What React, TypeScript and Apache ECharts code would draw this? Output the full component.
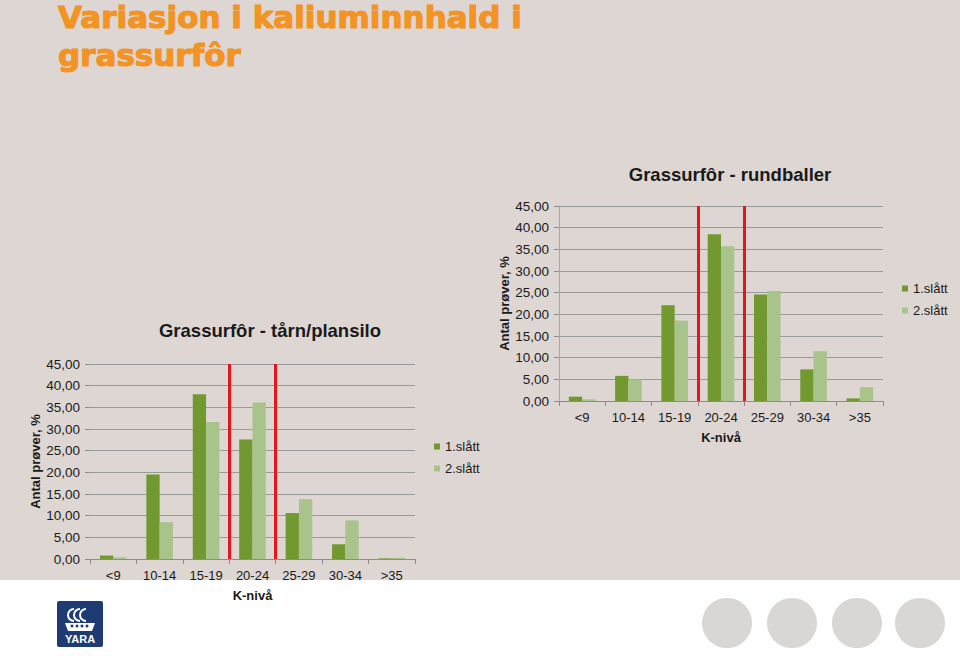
import React, { useEffect, useRef } from 'react';
import * as echarts from 'echarts';

const categories = ['<9', '10-14', '15-19', '20-24', '25-29', '30-34', '>35'];
const seriesNames = ['1.slått', '2.slått'];
const siloFirstCut = [0.8, 19.5, 38.0, 27.6, 10.6, 3.4, 0.15];
const siloSecondCut = [0.4, 8.5, 31.6, 36.1, 13.8, 8.9, 0.3];
const baleFirstCut = [1.0, 5.8, 22.1, 38.5, 24.6, 7.3, 0.6];
const baleSecondCut = [0.4, 5.0, 18.6, 35.7, 25.4, 11.5, 3.2];
const targetCategory = '20-24';
const yTicks = { min: 0, max: 45, interval: 5 };
const headingLines = ['Variasjon i kaliuminnhald i', 'grassurfôr'];

const FONT = '"Liberation Sans", Arial, sans-serif';
const DARK = '#71992F';
const LIGHT = '#A9C48B';
const TEXT = '#1A1A1A';
const GRID = '#9A9A9A';
const ORANGE = '#F39323';

export default function App() {
  const ref = useRef<HTMLDivElement>(null);
  useEffect(() => {
    const chart = echarts.init(ref.current!, null, { renderer: 'svg' });
    const ti = categories.indexOf(targetCategory);
    const bounds = [ti, ti + 1];

    const catAxis = (gridIndex: number) => ({
      type: 'category',
      gridIndex,
      data: categories,
      axisLine: { show: true, lineStyle: { color: '#8C8C8C', width: 1 } },
      axisTick: { show: true, length: 5, lineStyle: { color: '#8C8C8C' } },
      axisLabel: { margin: 10, fontSize: 13, color: TEXT, fontFamily: FONT },
      name: 'K-nivå',
      nameLocation: 'middle',
      nameGap: 30,
      nameTextStyle: { fontSize: 13, fontWeight: 'bold', color: TEXT, fontFamily: FONT },
    });
    const valAxis = (gridIndex: number, showLine: boolean) => ({
      type: 'value',
      gridIndex,
      min: yTicks.min,
      max: yTicks.max,
      interval: yTicks.interval,
      axisLine: { show: showLine, lineStyle: { color: '#A8A8A8' } },
      axisTick: { show: true, length: 5, lineStyle: { color: '#8C8C8C' } },
      splitLine: { show: true, lineStyle: { color: GRID, width: 1 } },
      axisLabel: {
        margin: 10,
        fontSize: 13.5,
        color: TEXT,
        fontFamily: FONT,
        formatter: (v: number) => v.toFixed(2).replace('.', ','),
      },
      name: 'Antal prøver, %',
      nameLocation: 'middle',
      nameGap: 45,
      nameTextStyle: { fontSize: 13, fontWeight: 'bold', color: TEXT, fontFamily: FONT },
    });
    const hiddenAxis = (gridIndex: number) => ({
      type: 'value',
      gridIndex,
      min: 0,
      max: categories.length,
      show: false,
    });
    const bar = (name: string, data: number[], axis: number, color: string) => ({
      type: 'bar',
      name,
      xAxisIndex: axis,
      yAxisIndex: axis,
      data,
      barWidth: 13.3,
      barGap: '0%',
      itemStyle: { color },
    });
    const redLines = (xAxisIndex: number, yAxisIndex: number) => ({
      type: 'line',
      xAxisIndex,
      yAxisIndex,
      data: [],
      markLine: {
        silent: true,
        symbol: ['none', 'none'],
        label: { show: false },
        lineStyle: { color: '#E8141B', width: 3, type: 'solid' },
        data: bounds.map((b) => ({ xAxis: b })),
      },
    });
    const legend = (left: number, top: number) => ({
      orient: 'vertical',
      left,
      top,
      padding: 0,
      itemGap: 9,
      itemWidth: 6,
      itemHeight: 6,
      icon: 'rect',
      data: seriesNames,
      textStyle: { fontSize: 13, color: TEXT, fontFamily: FONT },
    });
    const heading = (text: string, top: number) => ({
      text,
      left: 58,
      top,
      padding: 0,
      textStyle: {
        fontFamily: '"DejaVu Sans", sans-serif',
        fontWeight: 'bold',
        fontSize: 31,
        lineHeight: 31,
        color: ORANGE,
        textBorderColor: ORANGE,
        textBorderWidth: 1.1,
      },
    });

    const option = {
      animation: false,
      backgroundColor: '#FFFFFF',
      title: [
        heading(headingLines[0], 1),
        heading(headingLines[1], 39),
        {
          text: 'Grassurfôr - tårn/plansilo',
          left: 270,
          top: 321,
          padding: 0,
          textAlign: 'center',
          textStyle: { fontFamily: FONT, fontWeight: 'bold', fontSize: 18.5, color: TEXT },
        },
        {
          text: 'Grassurfôr - rundballer',
          left: 730,
          top: 165,
          padding: 0,
          textAlign: 'center',
          textStyle: { fontFamily: FONT, fontWeight: 'bold', fontSize: 18.5, color: TEXT },
        },
      ],
      legend: [legend(434, 440), legend(902, 282)],
      grid: [
        { left: 90, top: 364, width: 325, height: 195, containLabel: false },
        { left: 559, top: 206, width: 324, height: 195, containLabel: false },
      ],
      xAxis: [catAxis(0), catAxis(1), hiddenAxis(0), hiddenAxis(1)],
      yAxis: [valAxis(0, false), valAxis(1, true)],
      series: [
        bar(seriesNames[0], siloFirstCut, 0, DARK),
        bar(seriesNames[1], siloSecondCut, 0, LIGHT),
        bar(seriesNames[0], baleFirstCut, 1, DARK),
        bar(seriesNames[1], baleSecondCut, 1, LIGHT),
        redLines(2, 0),
        redLines(3, 1),
      ],
      graphic: [
        { type: 'rect', z: -10, silent: true, shape: { x: 0, y: 0, width: 960, height: 580 }, style: { fill: '#DDD6D3' } },
        { type: 'circle', shape: { cx: 727, cy: 623, r: 25 }, style: { fill: '#D9D6D4' } },
        { type: 'circle', shape: { cx: 792, cy: 623, r: 25 }, style: { fill: '#D9D6D4' } },
        { type: 'circle', shape: { cx: 857, cy: 623, r: 25 }, style: { fill: '#D9D6D4' } },
        { type: 'circle', shape: { cx: 920, cy: 623, r: 25 }, style: { fill: '#D9D6D4' } },
        {
          type: 'group',
          x: 57,
          y: 601,
          children: [
            { type: 'rect', shape: { x: 0, y: 0, width: 46, height: 46, r: 2 }, style: { fill: '#1E3B74' } },
            { type: 'arc', shape: { cx: 17, cy: 14, r: 6, startAngle: Math.PI * 0.5, endAngle: Math.PI * 1.5 }, style: { stroke: '#FFFFFF', lineWidth: 2, fill: 'none' } },
            { type: 'arc', shape: { cx: 23, cy: 14, r: 6, startAngle: Math.PI * 0.5, endAngle: Math.PI * 1.5 }, style: { stroke: '#FFFFFF', lineWidth: 2, fill: 'none' } },
            { type: 'arc', shape: { cx: 29, cy: 14, r: 6, startAngle: Math.PI * 0.5, endAngle: Math.PI * 1.5 }, style: { stroke: '#FFFFFF', lineWidth: 2, fill: 'none' } },
            { type: 'polygon', shape: { points: [[8, 22], [38, 22], [35, 30], [11, 30]] }, style: { fill: '#FFFFFF' } },
            { type: 'circle', shape: { cx: 15, cy: 25, r: 1.5 }, style: { fill: '#1E3B74' } },
            { type: 'circle', shape: { cx: 20, cy: 25, r: 1.5 }, style: { fill: '#1E3B74' } },
            { type: 'circle', shape: { cx: 25, cy: 25, r: 1.5 }, style: { fill: '#1E3B74' } },
            { type: 'circle', shape: { cx: 30, cy: 25, r: 1.5 }, style: { fill: '#1E3B74' } },
            {
              type: 'text',
              x: 23,
              y: 38,
              style: { text: 'YARA', align: 'center', verticalAlign: 'middle', fill: '#FFFFFF', font: 'bold 11px "Liberation Sans", Arial, sans-serif' },
            },
          ],
        },
      ],
    };
    chart.setOption(option as any);
    return () => chart.dispose();
  }, []);
  return <div ref={ref} style={{ position: 'absolute', left: 0, top: 0, width: 960, height: 656 }} />;
}
